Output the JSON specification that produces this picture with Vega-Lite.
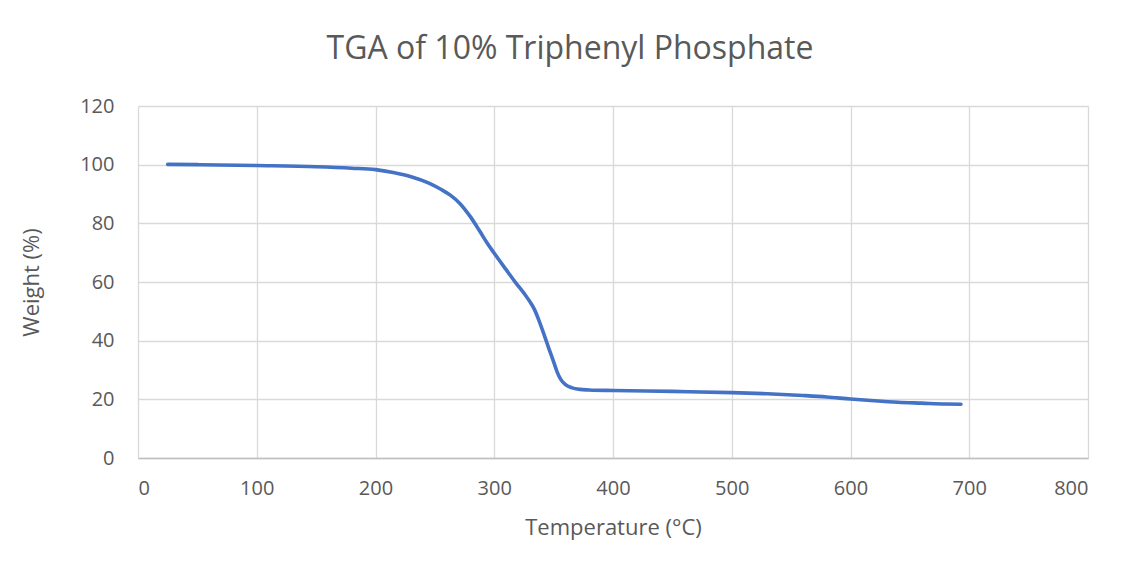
{
  "$schema": "https://vega.github.io/schema/vega-lite/v6.json",
  "width": 950,
  "height": 352,
  "autosize": {"type": "none"},
  "padding": {"left": 138, "top": 106, "right": 37, "bottom": 113},
  "background": "white",
  "title": {
    "text": "TGA of 10% Triphenyl Phosphate",
    "font": "Open Sans",
    "fontSize": 32,
    "fontWeight": "normal",
    "color": "#595959",
    "anchor": "middle",
    "dx": -43,
    "offset": 30
  },
  "config": {
    "view": {"stroke": null},
    "axis": {
      "labelFont": "Open Sans",
      "titleFont": "Open Sans",
      "labelFontSize": 20,
      "titleFontSize": 22,
      "labelColor": "#595959",
      "titleColor": "#595959",
      "titleFontWeight": "normal",
      "gridColor": "#D9D9D9",
      "gridWidth": 1.3,
      "ticks": false
    }
  },
  "data": {
    "values": [
      {"temp": 25, "weight": 100.1},
      {"temp": 50, "weight": 100.0},
      {"temp": 100, "weight": 99.7},
      {"temp": 150, "weight": 99.3},
      {"temp": 180, "weight": 98.8},
      {"temp": 200, "weight": 98.3},
      {"temp": 215, "weight": 97.3},
      {"temp": 230, "weight": 95.9},
      {"temp": 245, "weight": 93.7},
      {"temp": 255, "weight": 91.6},
      {"temp": 263, "weight": 89.6},
      {"temp": 271, "weight": 86.8},
      {"temp": 280, "weight": 82.2},
      {"temp": 288, "weight": 77.2},
      {"temp": 294, "weight": 73.3},
      {"temp": 300, "weight": 69.8},
      {"temp": 310, "weight": 64.2},
      {"temp": 318, "weight": 59.8},
      {"temp": 325, "weight": 56.2},
      {"temp": 330, "weight": 53.3},
      {"temp": 334, "weight": 50.5},
      {"temp": 338, "weight": 46.5},
      {"temp": 342, "weight": 42.0},
      {"temp": 346, "weight": 37.3},
      {"temp": 350, "weight": 32.8},
      {"temp": 353, "weight": 29.3},
      {"temp": 356, "weight": 26.8},
      {"temp": 360, "weight": 25.0},
      {"temp": 365, "weight": 24.0},
      {"temp": 372, "weight": 23.4},
      {"temp": 380, "weight": 23.2},
      {"temp": 400, "weight": 23.0},
      {"temp": 450, "weight": 22.7},
      {"temp": 500, "weight": 22.3},
      {"temp": 530, "weight": 21.9},
      {"temp": 560, "weight": 21.3},
      {"temp": 580, "weight": 20.8},
      {"temp": 600, "weight": 20.1},
      {"temp": 620, "weight": 19.5},
      {"temp": 640, "weight": 19.0},
      {"temp": 660, "weight": 18.7},
      {"temp": 680, "weight": 18.4},
      {"temp": 693, "weight": 18.3}
    ]
  },
  "mark": {"type": "line", "color": "#4472C4", "strokeWidth": 3.6, "interpolate": "monotone", "strokeCap": "round"},
  "encoding": {
    "x": {
      "field": "temp",
      "type": "quantitative",
      "title": "Temperature (°C)",
      "scale": {"domain": [0, 800], "nice": false},
      "axis": {"values": [0, 100, 200, 300, 400, 500, 600, 700, 800], "labelPadding": 20, "titlePadding": 19, "domainColor": "#BFBFBF", "domainWidth": 1.3}
    },
    "y": {
      "field": "weight",
      "type": "quantitative",
      "title": "Weight (%)",
      "scale": {"domain": [0, 120], "nice": false},
      "axis": {"values": [0, 20, 40, 60, 80, 100, 120], "labelPadding": 24, "titlePadding": 36, "domain": false}
    }
  }
}
